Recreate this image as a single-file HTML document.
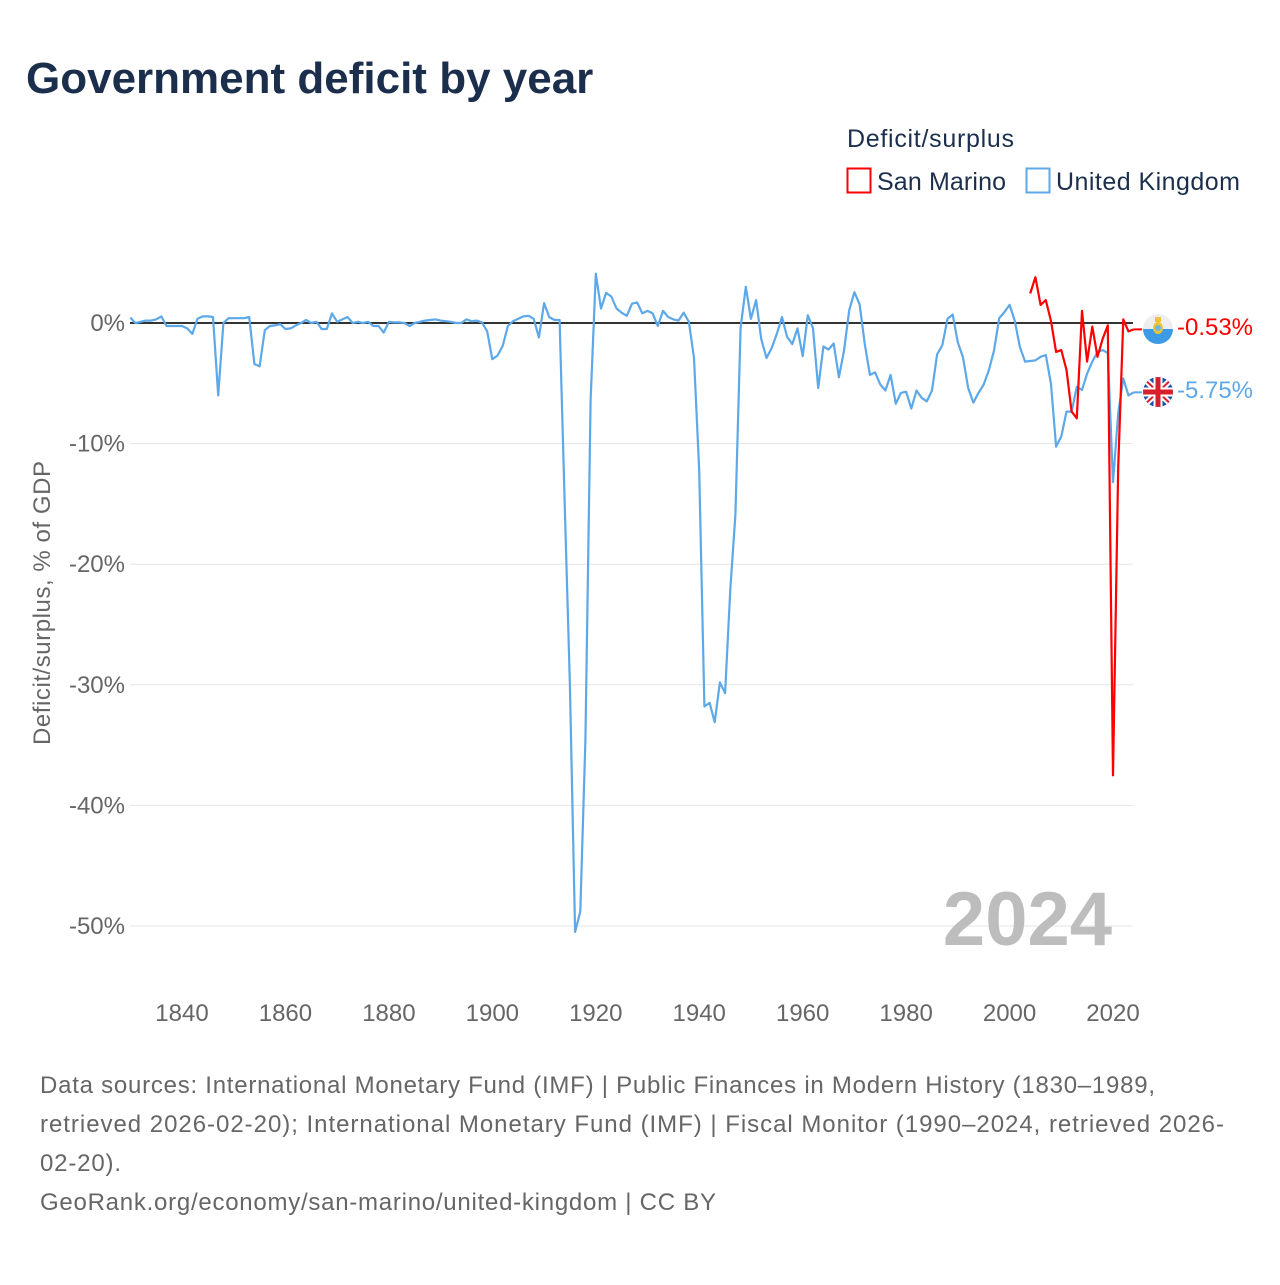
<!DOCTYPE html>
<html><head><meta charset="utf-8"><style>
html,body{margin:0;padding:0;background:#fff;}
body{width:1280px;height:1280px;position:relative;overflow:hidden;font-family:"Liberation Sans",sans-serif;}
</style></head><body>
<svg id="chart" width="1280" height="1280" viewBox="0 0 1280 1280" xmlns="http://www.w3.org/2000/svg" font-family="Liberation Sans, sans-serif">
<text x="26" y="93" font-size="44" font-weight="bold" fill="#1b2f4d">Government deficit by year</text>
<text x="847" y="147" font-size="25" fill="#1b2f4d" textLength="167">Deficit/surplus</text>
<g>
<rect x="847.5" y="168.5" width="23" height="24" fill="none" stroke="#f00" stroke-width="2"/>
<text x="877" y="190" font-size="25" fill="#1b2f4d" textLength="129">San Marino</text></g>
<g>
<rect x="1026.5" y="168.5" width="23" height="24" fill="none" stroke="#5da8e8" stroke-width="2"/>
<text x="1056" y="190" font-size="25" fill="#1b2f4d" textLength="184">United Kingdom</text></g>
<text transform="translate(50,603) rotate(-90)" text-anchor="middle" font-size="24" fill="#666" textLength="284">Deficit/surplus, % of GDP</text>
<g id="grid"></g><g id="yt"></g><g id="xt"></g>
<text x="1112" y="945" text-anchor="end" font-size="76" font-weight="bold" fill="#bdbdbd">2024</text>
<g id="series"></g>
<g>
<clipPath id="c1"><circle cx="1158" cy="329" r="15"/></clipPath>
<g clip-path="url(#c1)"><rect x="1140" y="312" width="36" height="17" fill="#eeeeee"/><rect x="1140" y="329" width="36" height="18" fill="#3c9be4"/></g>
<ellipse cx="1158" cy="328" rx="5" ry="6" fill="#f2c230"/><circle cx="1158" cy="328" r="3" fill="#6fb8e6"/><rect x="1155" y="317" width="6" height="5" fill="#f2c230"/></g>
<g>
<clipPath id="c2"><circle cx="1158" cy="392" r="15"/></clipPath>
<g clip-path="url(#c2)"><rect x="1140" y="375" width="36" height="34" fill="#1e4fa3"/>
<path d="M1140 375L1176 409M1176 375L1140 409" stroke="#fff" stroke-width="6"/>
<path d="M1140 375L1176 409M1176 375L1140 409" stroke="#d8202c" stroke-width="2"/>
<path d="M1158 375V409M1140 392H1176" stroke="#fff" stroke-width="9"/>
<path d="M1158 375V409M1140 392H1176" stroke="#d8202c" stroke-width="5"/></g></g>
<text x="1177" y="335" font-size="24" fill="#f00" textLength="76">-0.53%</text>
<text x="1177" y="398" font-size="24" fill="#5da8e8" textLength="76">-5.75%</text>
<g font-size="24" fill="#666">
<text x="40" y="1093" textLength="1115">Data sources: International Monetary Fund (IMF) | Public Finances in Modern History (1830–1989,</text>
<text x="40" y="1132" textLength="1184">retrieved 2026-02-20); International Monetary Fund (IMF) | Fiscal Monitor (1990–2024, retrieved 2026-</text>
<text x="40" y="1171" textLength="81">02-20).</text>
<text x="40" y="1210" textLength="676">GeoRank.org/economy/san-marino/united-kingdom | CC BY</text></g>
</svg>
<script>
const ukStart = 1830;
const ukValues = [0.45,0,0.1,0.2,0.2,0.3,0.55,-0.25,-0.25,-0.25,-0.25,-0.45,-0.9,0.35,0.55,0.55,0.5,-6.0,0,0.4,
0.4,0.4,0.4,0.5,-3.4,-3.6,-0.6,-0.25,-0.2,-0.1,-0.5,-0.45,-0.2,0,0.25,0,0.1,-0.5,-0.5,0.8,
0.1,0.3,0.5,0,0.1,0,0.1,-0.25,-0.25,-0.8,0.1,0.05,0.05,0,-0.25,0,0.1,0.2,0.25,0.3,
0.2,0.15,0.1,0,0,0.3,0.15,0.2,0.05,-0.7,-3.0,-2.7,-1.9,-0.25,0.15,0.35,0.55,0.6,0.35,-1.2,
1.65,0.5,0.25,0.25,-15,-30,-50.5,-48.8,-34.6,-6.4,4.1,1.2,2.5,2.2,1.2,0.85,0.6,1.6,1.7,0.8,
1.0,0.8,-0.25,1.0,0.5,0.3,0.2,0.85,0.1,-2.9,-12.2,-31.8,-31.5,-33.1,-29.8,-30.7,-22.1,-15.9,-0.4,3.0,
0.35,1.9,-1.35,-2.9,-2.1,-0.9,0.5,-1.15,-1.75,-0.45,-2.75,0.65,-0.45,-5.4,-1.95,-2.2,-1.7,-4.5,-2.3,1.05,
2.55,1.55,-1.7,-4.3,-4.1,-5.1,-5.6,-4.3,-6.7,-5.8,-5.7,-7.1,-5.6,-6.2,-6.5,-5.6,-2.6,-1.85,0.35,0.7,
-1.6,-2.85,-5.4,-6.6,-5.8,-5.1,-3.9,-2.3,0.4,0.9,1.5,0.2,-2.0,-3.2,-3.15,-3.1,-2.8,-2.65,-5.0,-10.25,
-9.4,-7.35,-7.35,-5.3,-5.55,-4.2,-3.2,-2.4,-2.25,-2.5,-13.2,-7.5,-4.6,-6.0,-5.75];
const smStart = 2004;
const smValues = [2.45,3.8,1.5,1.9,0.2,-2.4,-2.25,-3.9,-7.35,-7.9,1.0,-3.2,-0.3,-2.8,-1.3,-0.2,-37.5,-12,0.3,-0.7,-0.53];
const yTicks = [0,-10,-20,-30,-40,-50];
const xTicks = [1840,1860,1880,1900,1920,1940,1960,1980,2000,2020];

const NS='http://www.w3.org/2000/svg';
const xS = y => 182 + (y-1840)*(1113-182)/180;
const yS = v => 323 - v*12.06;
function mk(tag, attrs, parent){const e=document.createElementNS(NS,tag);for(const k in attrs)e.setAttribute(k,attrs[k]);parent.appendChild(e);return e;}
const grid=document.getElementById('grid'), yt=document.getElementById('yt'), xt=document.getElementById('xt'), series=document.getElementById('series');
yTicks.forEach(t=>{
  if(t!==0){const g=mk('line',{x1:130,x2:1133,y1:yS(t),y2:yS(t),stroke:'#e6e6e6','stroke-width':1},grid);
  
  }
  const l=mk('text',{x:125,y:yS(t)+8,'text-anchor':'end','font-size':24,fill:'#666'},yt);
  l.textContent=t+'%';
  
  
});
xTicks.forEach(t=>{
  const l=mk('text',{x:xS(t),y:1021,'text-anchor':'middle','font-size':24,fill:'#666'},xt);
  l.textContent=t;
  
  
});
const zl=mk('line',{x1:130,x2:1133,y1:yS(0),y2:yS(0),stroke:'#333','stroke-width':2},grid);


function pts(start,vals){return vals.map((v,i)=>xS(start+i).toFixed(1)+','+yS(v).toFixed(1)).join(' ');}
const uk=mk('polyline',{points:pts(ukStart,ukValues),fill:'none',stroke:'#5da8e8','stroke-width':2.2,'stroke-linejoin':'round'},series);


const ukLast=ukValues[ukValues.length-1], ukX=xS(ukStart+ukValues.length-1);
const ukc=mk('line',{x1:ukX,x2:1142,y1:yS(ukLast),y2:yS(ukLast),stroke:'#5da8e8','stroke-width':2},series);


const sm=mk('polyline',{points:pts(smStart,smValues),fill:'none',stroke:'#f00','stroke-width':2.2,'stroke-linejoin':'round'},series);


const smLast=smValues[smValues.length-1], smX=xS(smStart+smValues.length-1);
const smc=mk('line',{x1:smX,x2:1142,y1:yS(smLast),y2:yS(smLast),stroke:'#f00','stroke-width':2},series);


</script>
</body></html>
